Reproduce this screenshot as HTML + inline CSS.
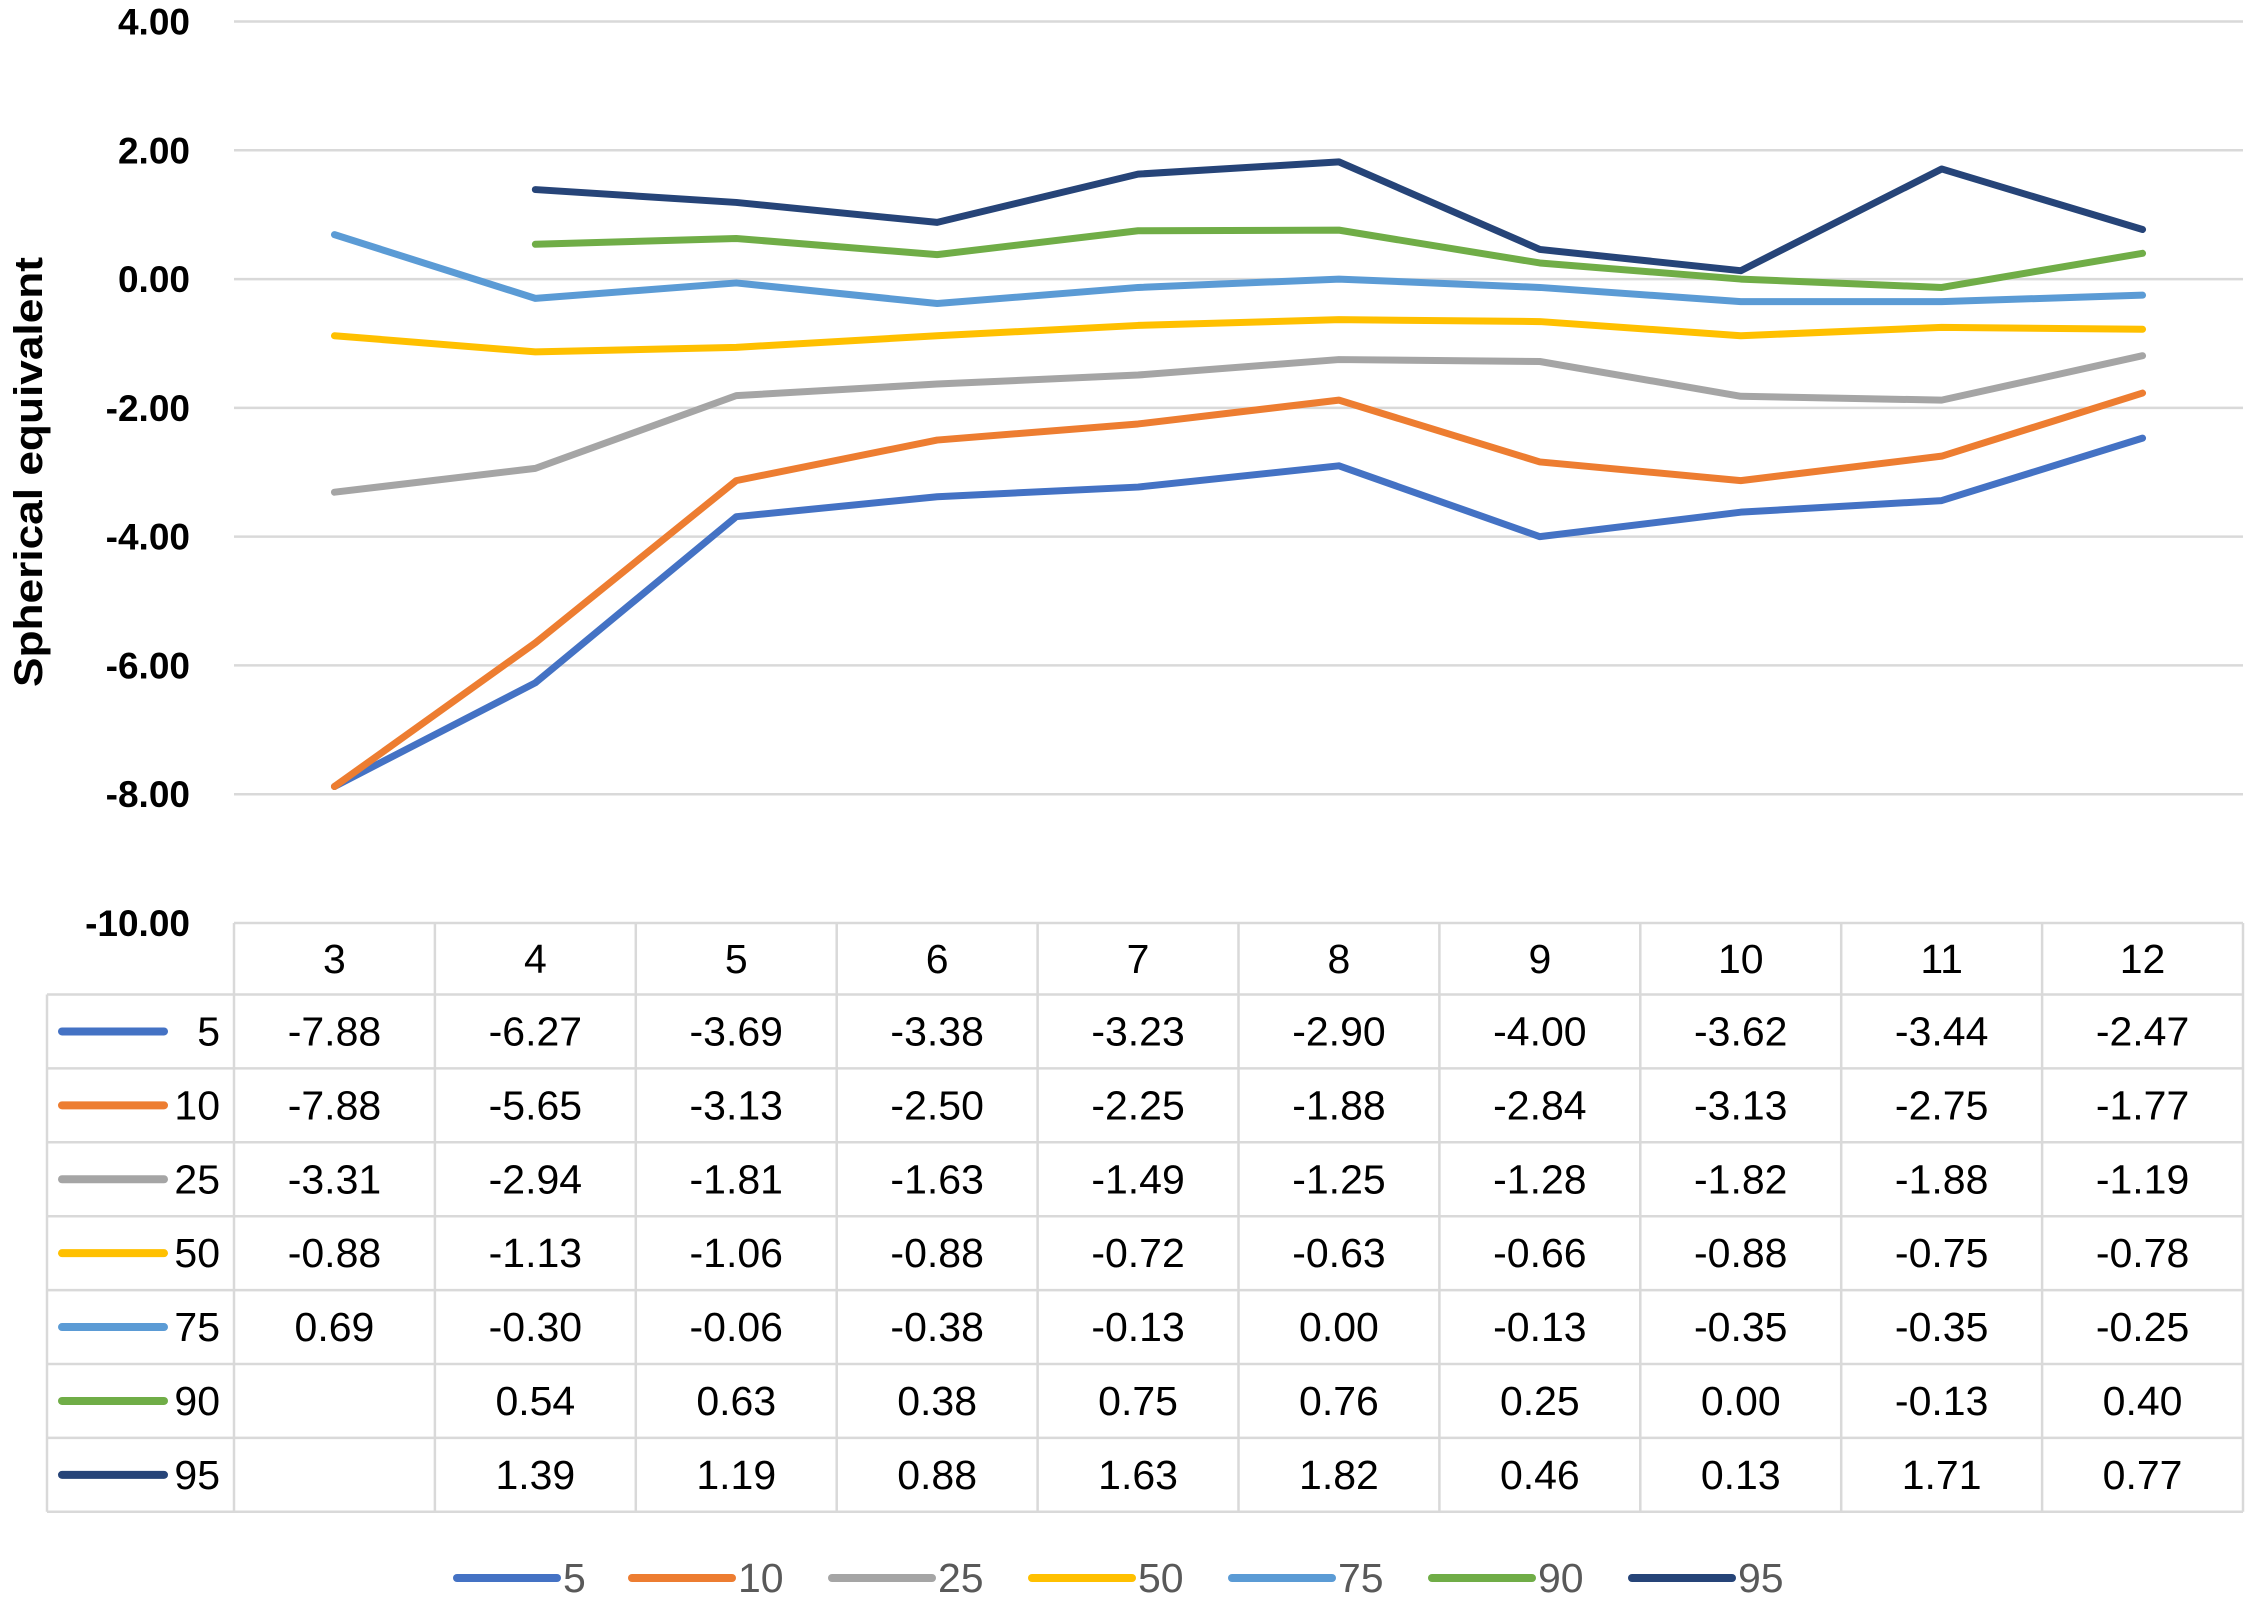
<!DOCTYPE html>
<html><head><meta charset="utf-8"><style>
html,body{margin:0;padding:0;background:#fff;}
svg{display:block;font-family:"Liberation Sans",Arial,sans-serif;}
</style></head><body>
<svg id="chart" width="2250" height="1600" viewBox="0 0 2250 1600" xmlns="http://www.w3.org/2000/svg">
<text transform="translate(42,472) rotate(-90)" text-anchor="middle" font-size="40" font-weight="bold" fill="#000" textLength="430" lengthAdjust="spacingAndGlyphs">Spherical equivalent</text>
<g id="grid"></g><g id="ylabels"></g><g id="table"></g><g id="lines"></g><g id="legend"></g>
</svg>
<script>
const categories=["3","4","5","6","7","8","9","10","11","12"];
const seriesNames=["5","10","25","50","75","90","95"];
const colors=["#4472C4","#ED7D31","#A5A5A5","#FFC000","#5B9BD5","#70AD47","#264478"];
const s5=[-7.88,-6.27,-3.69,-3.38,-3.23,-2.90,-4.00,-3.62,-3.44,-2.47];
const s10=[-7.88,-5.65,-3.13,-2.50,-2.25,-1.88,-2.84,-3.13,-2.75,-1.77];
const s25=[-3.31,-2.94,-1.81,-1.63,-1.49,-1.25,-1.28,-1.82,-1.88,-1.19];
const s50=[-0.88,-1.13,-1.06,-0.88,-0.72,-0.63,-0.66,-0.88,-0.75,-0.78];
const s75=[0.69,-0.30,-0.06,-0.38,-0.13,0.00,-0.13,-0.35,-0.35,-0.25];
const s90=[null,0.54,0.63,0.38,0.75,0.76,0.25,0.00,-0.13,0.40];
const s95=[null,1.39,1.19,0.88,1.63,1.82,0.46,0.13,1.71,0.77];
const yTicks=[4,2,0,-2,-4,-6,-8,-10];
const series=[s5,s10,s25,s50,s75,s90,s95];
const NS="http://www.w3.org/2000/svg";
const L=234,R=2243,yTop=21.5,yBot=923,yMax=4,yMin=-10;
const colW=(R-L)/categories.length;
const y=v=>yTop+(yMax-v)/(yMax-yMin)*(yBot-yTop);
const x=i=>L+colW*(i+0.5);
function mk(tag,attrs,parent){const e=document.createElementNS(NS,tag);for(const k in attrs)e.setAttribute(k,attrs[k]);parent.appendChild(e);return e;}
const grid=document.getElementById('grid'),yl=document.getElementById('ylabels');
yTicks.forEach(t=>{
  if(t>yMin){const g=mk('line',{x1:L,x2:R,y1:y(t),y2:y(t),stroke:'#d9d9d9','stroke-width':2.5},grid);
  
  }
  const tx=mk('text',{x:190,y:y(t)+13,'text-anchor':'end','font-size':37,'font-weight':'bold',fill:'#000'},yl);
  tx.textContent=t.toFixed(2);
  
  
});
const tb=document.getElementById('table');
const rowH=73.9, tL=47, hdrB=994.5, tBot=hdrB+rowH*7;
const FS=41;
const st={stroke:'#d9d9d9','stroke-width':2.5};
for(let i=0;i<=categories.length;i++){const xx=L+colW*i;mk('line',Object.assign({x1:xx,x2:xx,y1:yBot,y2:tBot},st),tb);}
mk('line',Object.assign({x1:tL,x2:tL,y1:hdrB,y2:tBot},st),tb);
mk('line',Object.assign({x1:L,x2:R,y1:yBot,y2:yBot},st),tb);
for(let r=0;r<=7;r++){const yy=hdrB+rowH*r;mk('line',Object.assign({x1:tL,x2:R,y1:yy,y2:yy},st),tb);}
categories.forEach((c,i)=>{const t=mk('text',{x:x(i),y:yBot+50,'text-anchor':'middle','font-size':FS,fill:'#000'},tb);t.textContent=c;
  
  });
series.forEach((s,r)=>{
  const cy=hdrB+rowH*(r+0.5);
  const k=mk('line',{x1:62,x2:164,y1:cy,y2:cy,stroke:colors[r],'stroke-width':8,'stroke-linecap':'round'},tb);
  
  
  const n=mk('text',{x:220,y:cy+14,'text-anchor':'end','font-size':FS,fill:'#000'},tb);n.textContent=seriesNames[r];
  
  
  s.forEach((v,i)=>{if(v===null)return;const t=mk('text',{x:x(i),y:cy+14,'text-anchor':'middle','font-size':FS,fill:'#000'},tb);t.textContent=v.toFixed(2);
    
    });
});
const lg=document.getElementById('lines');
series.forEach((s,r)=>{
  let d='';let started=false;
  s.forEach((v,i)=>{if(v===null){started=false;return;}d+=(started?'L':'M')+x(i)+','+y(v)+' ';started=true;});
  const p=mk('path',{d:d,fill:'none',stroke:colors[r],'stroke-width':7,'stroke-linejoin':'round','stroke-linecap':'round'},lg);
  
  
});
const leg=document.getElementById('legend');
const ly=1578; let lx=457;
seriesNames.forEach((n,r)=>{
  const k=mk('line',{x1:lx,x2:lx+100,y1:ly,y2:ly,stroke:colors[r],'stroke-width':8,'stroke-linecap':'round'},leg);
  
  
  const t=mk('text',{x:lx+106,y:ly+14,'font-size':FS,fill:'#595959'},leg);t.textContent=n;
  
  
  lx+=150+25*n.length;
});
</script>
</body></html>
